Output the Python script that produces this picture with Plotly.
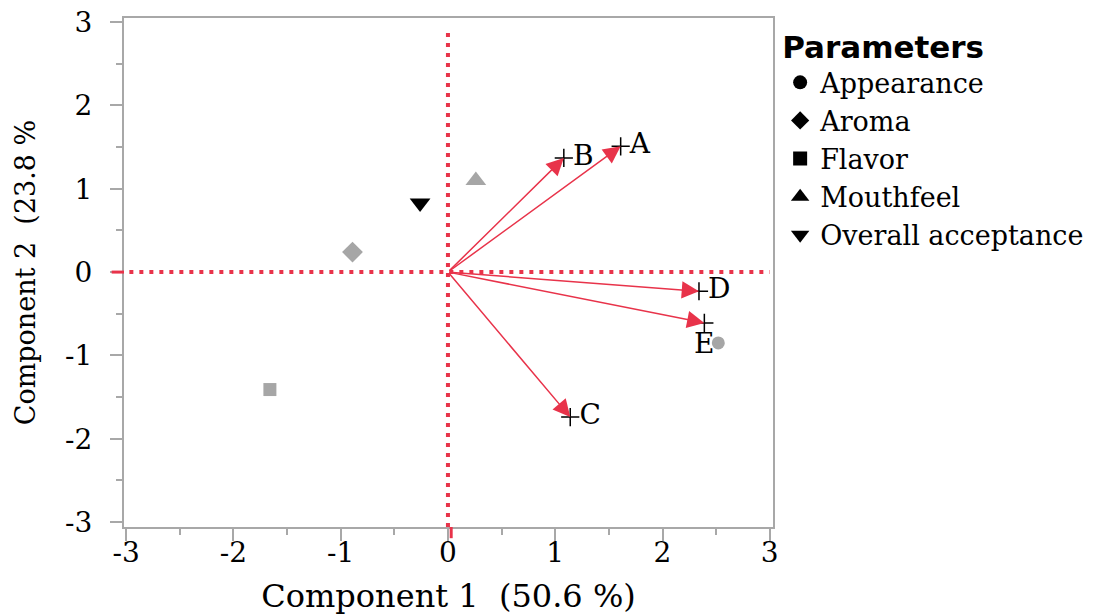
import plotly.graph_objects as go

# ---- data ----
param_names = ["Appearance", "Aroma", "Flavor", "Mouthfeel", "Overall acceptance"]
param_symbols = ["circle", "diamond", "square", "triangle-up", "triangle-down"]
param_x = [2.52, -0.89, -1.66, 0.26, -0.26]
param_y = [-0.85, 0.24, -1.41, 1.10, 0.83]
param_colors = ["#a6a6a6", "#a6a6a6", "#a6a6a6", "#a6a6a6", "#000000"]

load_labels = ["A", "B", "C", "D", "E"]
load_x = [1.61, 1.08, 1.14, 2.34, 2.39]
load_y = [1.51, 1.37, -1.74, -0.23, -0.61]
load_textpos = ["middle right", "middle right", "middle right", "middle right", "bottom center"]

tick_vals = [-3, -2, -1, 0, 1, 2, 3]
tick_text = ["-3", "-2", "-1", "0", "1", "2", "3"]

RED = "#e8334a"
GRAY = "#a8a8a8"
SERIF = "DejaVu Serif"

fig = go.Figure()

# plot markers (no legend)
marker_sizes = {"circle": 13, "square": 13, "diamond": 16, "triangle-up": 18, "triangle-down": 18}
for n, s, x, y, c in zip(param_names, param_symbols, param_x, param_y, param_colors):
    fig.add_trace(go.Scatter(x=[x], y=[y], mode="markers", showlegend=False,
                             marker=dict(symbol=s, size=marker_sizes[s], color=c, line=dict(width=0)),
                             hoverinfo="skip"))

# legend entries (black markers)
for n, s in zip(param_names, param_symbols):
    fig.add_trace(go.Scatter(x=[None], y=[None], mode="markers", name=n,
                             marker=dict(symbol=s, size=14 if s in ("circle", "square", "diamond") else 16,
                                         color="black")))

# loading plus markers and labels
fig.add_trace(go.Scatter(x=load_x, y=load_y, mode="markers+text", showlegend=False,
                         text=load_labels, textposition=load_textpos,
                         textfont=dict(family=SERIF, size=28, color="black"),
                         marker=dict(symbol="cross-thin", size=13, line=dict(width=1.5, color="black")),
                         hoverinfo="skip"))

# arrows
for x, y in zip(load_x, load_y):
    fig.add_annotation(x=x, y=y, ax=0, ay=0, xref="x", yref="y", axref="x", ayref="y",
                       text="", showarrow=True, arrowhead=2, arrowsize=2.3, arrowwidth=1.5,
                       arrowcolor=RED, standoff=0)

# dotted zero lines
fig.add_shape(type="line", x0=-2.97, x1=3.0, y0=0, y1=0, xref="x", yref="y",
              line=dict(color=RED, width=4, dash="4px,6px"), layer="below")
fig.add_shape(type="line", x0=0, x1=0, y0=-3.06, y1=2.93, xref="x", yref="y",
              line=dict(color=RED, width=4, dash="4px,6px"), layer="below")
# red zero ticks outside the axes
fig.add_shape(type="line", x0=0.03, x1=0.03, y0=0, y1=-0.022, xref="x", yref="paper",
              line=dict(color=RED, width=3))
fig.add_shape(type="line", x0=-0.019, x1=0, y0=0, y1=0, xref="paper", yref="y",
              line=dict(color=RED, width=3))

axis_common = dict(
    tickmode="array", tickvals=tick_vals, ticktext=tick_text,
    ticks="outside", ticklen=12, tickwidth=1.5, tickcolor=GRAY,
    showgrid=False, zeroline=False, ticklabeloverflow="allow",
    showline=True, linecolor=GRAY, linewidth=2, mirror=True,
    tickfont=dict(family=SERIF, size=28, color="black"),
    minor=dict(ticks="outside", ticklen=6, tickwidth=1.5, tickcolor=GRAY, dtick=0.5, tick0=0, showgrid=False),
)

fig.update_xaxes(range=[-3.02, 3.03], **axis_common, ticklabelstandoff=-13,
                 title=dict(text="Component 1  (50.6 %)", font=dict(family=SERIF, size=32, color="black"),
                            standoff=24))
fig.update_yaxes(range=[-3.06, 3.05], **axis_common, ticklabelstandoff=12,
                 title=dict(text="Component 2  (23.8 %", font=dict(family=SERIF, size=27, color="black"),
                            standoff=22))

fig.update_layout(
    width=1110, height=615,
    font=dict(family=SERIF, color="black"),
    margin=dict(l=124, r=337, t=18, b=88, autoexpand=False),
    plot_bgcolor="white", paper_bgcolor="white",
    legend=dict(x=1.011, y=1.0, xanchor="left", yanchor="top",
                title=dict(text="<b>Parameters</b>", font=dict(family="DejaVu Sans", size=31, color="black")),
                font=dict(family=SERIF, size=27, color="black"),
                itemwidth=30, bgcolor="rgba(0,0,0,0)", tracegroupgap=0),
)

fig.write_html("out.html", config={"displayModeBar": False},
               post_script="document.body.style.margin='0';")
